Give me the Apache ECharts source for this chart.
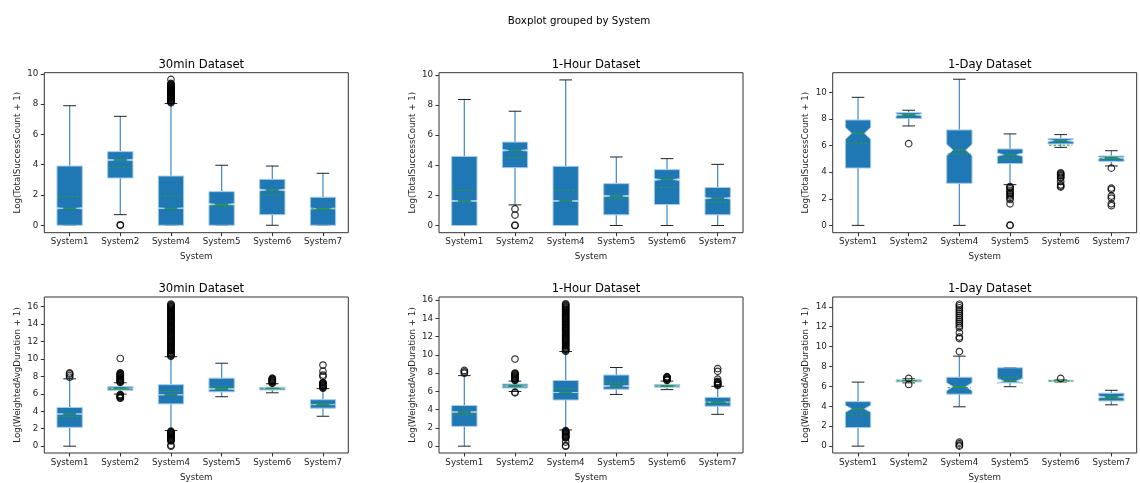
<!DOCTYPE html>
<html>
<head>
<meta charset="utf-8">
<script src="https://cdn.jsdelivr.net/npm/echarts@6/dist/echarts.min.js"></script>
<style>
html,body{margin:0;padding:0;background:#fff;}
#chart{width:1140px;height:483px;}
</style>
</head>
<body>
<div id="chart"></div>
<script>
// ---------- DATA ----------
const categories = ['System1', 'System2', 'System4', 'System5', 'System6', 'System7'];
const suptitle = 'Boxplot grouped by System';
const panelTitles = ['30min Dataset', '1-Hour Dataset', '1-Day Dataset', '30min Dataset', '1-Hour Dataset', '1-Day Dataset'];
const yNames = ['Log(TotalSuccessCount + 1)', 'Log(TotalSuccessCount + 1)', 'Log(TotalSuccessCount + 1)',
                'Log(WeightedAvgDuration + 1)', 'Log(WeightedAvgDuration + 1)', 'Log(WeightedAvgDuration + 1)'];
const yTicksA = [0, 2, 4, 6, 8, 10];
const yTicksB = [0, 2, 4, 6, 8, 10, 12, 14, 16];
const yTicksC = [0, 2, 4, 6, 8, 10, 12, 14];

// rows per system: [lowWhisker, Q1, median, Q3, highWhisker, mean, notchHalf]
const succ30Stats = [
  [0, 0, 1.12, 3.91, 7.89, 1.89, 0.04],
  [0.70, 3.12, 4.31, 4.86, 7.19, 3.82, 0.05],
  [0, 0, 1.12, 3.25, 8.04, 1.93, 0.03],
  [0, 0, 1.38, 2.22, 3.96, 1.27, 0.05],
  [0, 0.70, 2.33, 3.03, 3.91, 1.98, 0.06],
  [0, 0, 1.10, 1.85, 3.43, 1.08, 0.04]
];
const succ1hStats = [
  [0, 0, 1.63, 4.59, 8.37, 2.34, 0.04],
  [1.37, 3.84, 4.99, 5.54, 7.59, 4.50, 0.05],
  [0, 0, 1.63, 3.93, 9.67, 2.34, 0.03],
  [0, 0.71, 1.96, 2.78, 4.55, 1.77, 0.05],
  [0, 1.39, 3.05, 3.71, 4.44, 2.52, 0.06],
  [0, 0.71, 1.81, 2.52, 4.06, 1.52, 0.05]
];
const succ1dStats = [
  [0, 4.31, 6.92, 7.92, 9.62, 6.17, 0.45],
  [7.47, 8.02, 8.30, 8.47, 8.65, 8.22, 0.08],
  [0, 3.16, 5.66, 7.17, 10.98, 5.36, 0.43],
  [3.06, 4.64, 5.31, 5.74, 6.87, 5.04, 0.12],
  [5.86, 6.12, 6.37, 6.52, 6.82, 6.02, 0.08],
  [4.46, 4.81, 5.06, 5.21, 5.61, 5.01, 0.07]
];
const dur30Stats = [
  [0, 2.16, 3.69, 4.44, 7.72, 3.39, 0.03],
  [5.97, 6.42, 6.64, 6.83, 7.27, 6.60, 0.01],
  [1.79, 4.85, 5.89, 7.05, 10.26, 6.27, 0.01],
  [5.67, 6.23, 6.56, 7.80, 9.51, 6.83, 0.05],
  [6.12, 6.45, 6.64, 6.75, 7.16, 6.62, 0.01],
  [3.43, 4.36, 4.77, 5.33, 6.60, 4.85, 0.02]
];
const dur1hStats = [
  [0, 2.17, 3.74, 4.45, 7.73, 3.42, 0.03],
  [5.99, 6.38, 6.59, 6.81, 7.13, 6.60, 0.01],
  [1.78, 5.06, 5.88, 7.20, 10.37, 6.31, 0.01],
  [5.67, 6.24, 6.59, 7.80, 8.62, 6.95, 0.06],
  [6.20, 6.45, 6.59, 6.77, 7.13, 6.60, 0.01],
  [3.49, 4.38, 4.81, 5.35, 6.56, 4.80, 0.02]
];
const dur1dStats = [
  [0, 1.86, 3.75, 4.47, 6.43, 3.20, 0.35],
  [6.36, 6.46, 6.59, 6.66, 6.76, 6.56, 0.03],
  [3.95, 5.22, 5.97, 6.92, 9.04, 5.87, 0.40],
  [5.97, 6.36, 6.55, 7.87, 7.90, 6.92, 0.25],
  [6.45, 6.50, 6.56, 6.62, 6.66, 6.56, 0.03],
  [4.15, 4.54, 4.93, 5.32, 5.61, 4.80, 0.10]
];

// outliers per system (same order as categories)
const succ30Outliers = [
  [],
  [0, 0.03],
  [8.08, 8.13, 8.18, 8.22, 8.27, 8.3, 8.35, 8.38, 8.42, 8.45, 8.5, 8.53, 8.57, 8.6, 8.64, 8.68, 8.72, 8.75, 8.8, 8.83,
   8.87, 8.9, 8.94, 8.98, 9.02, 9.05, 9.09, 9.12, 9.16, 9.2, 9.24, 9.28, 9.32, 9.36, 9.63],
  [], [], []
];
const succ1hOutliers = [
  [],
  [1.10, 0.69, 0, 0.02],
  [], [], [], []
];
const succ1dOutliers = [
  [],
  [6.14],
  [],
  [2.92, 2.85, 2.75, 2.62, 2.5, 2.4, 2.3, 2.2, 2.05, 1.95, 1.62, 0, 0.02],
  [3.95, 3.88, 3.8, 3.72, 3.62, 3.55, 3.3, 3.05, 2.95, 2.88],
  [4.3, 2.8, 2.7, 2.2, 2.05, 1.62, 1.48]
];
const dur30Outliers = [
  [7.9, 8.1, 8.28, 8.4],
  [7.3, 7.37, 7.45, 7.52, 7.6, 7.67, 7.75, 7.82, 7.9, 7.97, 8.05, 8.12, 8.2, 8.27, 8.35, 8.4, 10.05,
   5.92, 5.85, 5.78, 5.7, 5.63, 5.55, 5.5],
  [10.3, 10.4, 10.5, 10.6, 10.7, 10.8, 10.9, 11.0, 11.1, 11.2, 11.3, 11.4, 11.5, 11.6, 11.7, 11.8, 11.9, 12.0,
   12.1, 12.2, 12.3, 12.4, 12.5, 12.6, 12.7, 12.8, 12.9, 13.0, 13.1, 13.2, 13.3, 13.4, 13.5, 13.6, 13.7, 13.8,
   13.9, 14.0, 14.1, 14.2, 14.3, 14.4, 14.5, 14.6, 14.7, 14.8, 14.9, 15.0, 15.1, 15.2, 15.3, 15.4, 15.5, 15.6,
   15.7, 15.8, 15.9, 16.0, 16.1, 16.2, 16.3,
   1.72, 1.65, 1.58, 1.5, 1.42, 1.35, 1.27, 1.2, 1.12, 1.05, 0.97, 0.9, 0.82, 0.75, 0.67, 0.6, 0.1, 0],
  [],
  [7.2, 7.27, 7.35, 7.42, 7.5, 7.57, 7.65, 7.72, 7.8],
  [6.65, 6.72, 6.8, 6.87, 6.95, 7.02, 7.1, 7.17, 7.25, 7.3, 8.0, 8.15, 8.6, 9.3]
];
const dur1hOutliers = [
  [8.0, 8.15, 8.3],
  [7.2, 7.27, 7.35, 7.42, 7.5, 7.57, 7.65, 7.72, 7.8, 7.87, 7.95, 8.02, 9.55, 5.92, 5.85],
  [10.4, 10.5, 10.6, 10.7, 10.8, 10.9, 11.0, 11.1, 11.2, 11.3, 11.4, 11.5, 11.6, 11.7, 11.8, 11.9, 12.0, 12.1,
   12.2, 12.3, 12.4, 12.5, 12.6, 12.7, 12.8, 12.9, 13.0, 13.1, 13.2, 13.3, 13.4, 13.5, 13.6, 13.7, 13.8, 13.9,
   14.0, 14.1, 14.2, 14.3, 14.4, 14.5, 14.6, 14.7, 14.8, 14.9, 15.0, 15.1, 15.2, 15.3, 15.4, 15.5, 15.6,
   1.7, 1.62, 1.55, 1.47, 1.4, 1.32, 1.25, 1.17, 1.1, 1.02, 0.95, 0.9, 0.45, 0.05, 0],
  [],
  [7.2, 7.27, 7.35, 7.42, 7.5, 7.57, 7.62],
  [6.65, 6.72, 6.8, 6.87, 6.95, 7.02, 7.1, 7.35, 8.2, 8.5]
];
const dur1dOutliers = [
  [],
  [6.8, 6.2],
  [9.5, 10.8, 10.95, 11.4, 11.9, 12.1, 12.3, 12.5, 12.7, 12.9, 13.1, 13.3, 13.5, 13.7, 13.9, 14.1, 14.25, 0.4, 0.25, 0.1, 0],
  [],
  [6.8],
  []
];

// ---------- LAYOUT ----------
const panels = [
  {stats: succ30Stats, out: succ30Outliers, ticks: yTicksA, min: -0.49, max: 10.07, left: 44.3, top: 72.7},
  {stats: succ1hStats, out: succ1hOutliers, ticks: yTicksA, min: -0.48, max: 10.15, left: 439, top: 72.7},
  {stats: succ1dStats, out: succ1dOutliers, ticks: yTicksA, min: -0.55, max: 11.47, left: 832.7, top: 72.7},
  {stats: dur30Stats, out: dur30Outliers, ticks: yTicksB, min: -0.78, max: 17.1, left: 44.3, top: 297},
  {stats: dur1hStats, out: dur1hOutliers, ticks: yTicksB, min: -0.75, max: 16.35, left: 439, top: 297},
  {stats: dur1dStats, out: dur1dOutliers, ticks: yTicksC, min: -0.69, max: 14.98, left: 832.7, top: 297}
];
const PW = 304, PH = 160;
const FONT = 'DejaVu Sans';
const BLUE = '#1f77b4', GREEN = '#2ca02c';

function renderBox(params, api) {
  const xi = api.value(0);
  const low = api.value(1), q1 = api.value(2), med = api.value(3), q3 = api.value(4),
        high = api.value(5), mean = api.value(6), nh = api.value(7);
  const band = api.size([1, 0])[0];
  const w = band * 0.5;
  const c = api.coord([xi, med])[0];
  const y = v => api.coord([xi, v])[1];
  const L = c - w / 2, R = c + w / 2, iL = c - w / 4, iR = c + w / 4;
  const nlo = med - nh, nhi = med + nh;
  const capL = c - w / 4, capR = c + w / 4;
  const lineStyleW = {stroke: '#4a92ca', lineWidth: 1.3};
  const children = [
    {type: 'line', shape: {x1: c, y1: y(q3), x2: c, y2: y(high)}, style: lineStyleW},
    {type: 'line', shape: {x1: c, y1: y(q1), x2: c, y2: y(low)}, style: lineStyleW},
    {type: 'line', shape: {x1: capL, y1: y(high), x2: capR, y2: y(high)}, style: {stroke: '#222', lineWidth: 1}},
    {type: 'line', shape: {x1: capL, y1: y(low), x2: capR, y2: y(low)}, style: {stroke: '#222', lineWidth: 1}},
    {type: 'polygon', shape: {points: [
      [L, y(q1)], [R, y(q1)], [R, y(nlo)], [iR, y(med)], [R, y(nhi)], [R, y(q3)],
      [L, y(q3)], [L, y(nhi)], [iL, y(med)], [L, y(nlo)]
    ]}, style: {fill: BLUE, stroke: '#a9cbe6', lineWidth: 1}},
    {type: 'line', shape: {x1: iL, y1: y(med), x2: iR, y2: y(med)}, style: {stroke: GREEN, lineWidth: 1}},
    {type: 'line', shape: {x1: L + 1, y1: y(mean), x2: R - 1, y2: y(mean)}, style: {stroke: GREEN, lineWidth: 1, lineDash: [2.5, 2]}}
  ];
  return {type: 'group', children: children};
}

const grid = [], xAxis = [], yAxis = [], series = [], title = [];
title.push({text: suptitle, left: 574, top: 11, textAlign: 'center',
  textStyle: {fontFamily: FONT, fontSize: 10.3, fontWeight: 'normal', color: '#000'}});

panels.forEach((p, i) => {
  grid.push({left: p.left, top: p.top, width: PW, height: PH, show: true, borderColor: '#333', borderWidth: 1, backgroundColor: 'transparent'});
  title.push({text: panelTitles[i], left: p.left + PW / 2, top: p.top - 19, textAlign: 'center',
    textStyle: {fontFamily: FONT, fontSize: 11.6, fontWeight: 'normal', color: '#000'}});
  xAxis.push({
    type: 'category', gridIndex: i, data: categories, boundaryGap: true,
    name: 'System', nameLocation: 'middle', nameGap: 20,
    nameTextStyle: {fontFamily: FONT, fontSize: 8.7, color: '#222'},
    axisLine: {show: false, onZero: false},
    axisTick: {show: true, alignWithLabel: true, length: 3.5, lineStyle: {color: '#333'}},
    axisLabel: {fontFamily: FONT, fontSize: 8.7, color: '#222', margin: 5},
    splitLine: {show: false}
  });
  yAxis.push({
    type: 'value', gridIndex: i, min: p.min, max: p.max,
    name: yNames[i], nameLocation: 'middle', nameGap: 22, nameRotate: 90,
    nameTextStyle: {fontFamily: FONT, fontSize: 8.7, color: '#222'},
    axisLine: {show: false, onZero: false},
    axisTick: {show: true, length: 3.5, lineStyle: {color: '#333'}, customValues: p.ticks},
    axisLabel: {fontFamily: FONT, fontSize: 8.7, color: '#222', margin: 6, customValues: p.ticks},
    splitLine: {show: false}
  });
  series.push({
    type: 'custom', xAxisIndex: i, yAxisIndex: i,
    renderItem: renderBox,
    encode: {x: 0, y: [1, 2, 3, 4, 5]},
    data: p.stats.map((r, k) => [k].concat(r)),
    z: 2, silent: true
  });
  const pts = [];
  p.out.forEach((arr, k) => arr.forEach(v => pts.push([k, v])));
  series.push({
    type: 'scatter', xAxisIndex: i, yAxisIndex: i,
    data: pts, symbol: 'circle', symbolSize: 6.5,
    itemStyle: {color: 'rgba(0,0,0,0)', borderColor: '#000', borderWidth: 1.2},
    z: 3, silent: true, animation: false
  });
});

const chart = echarts.init(document.getElementById('chart'), null, {renderer: 'canvas'});
chart.setOption({
  animation: false,
  backgroundColor: '#fff',
  title: title, grid: grid, xAxis: xAxis, yAxis: yAxis, series: series
});
</script>
</body>
</html>
